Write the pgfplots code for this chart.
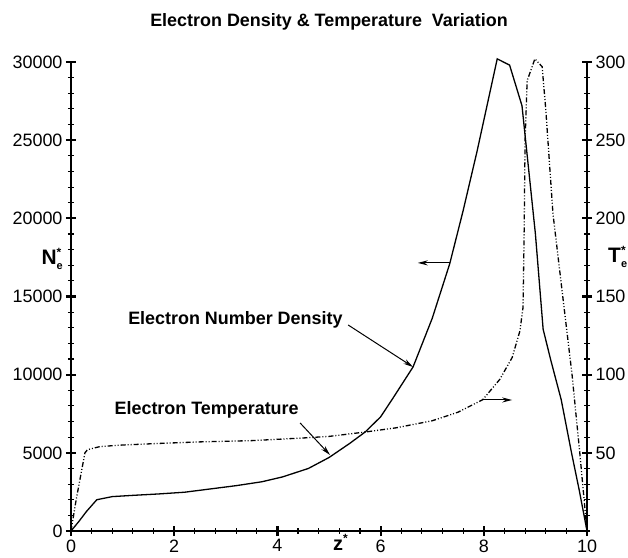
\documentclass[border=0pt]{standalone}
\usepackage{fontspec}
\setmainfont{Liberation Sans}
\usepackage{pgfplots}
\pgfplotsset{compat=1.18}
\usetikzlibrary{arrows.meta}

\newcommand{\lab}[2]{#1\makebox[0pt][l]{\raisebox{-0.45ex}{\fontsize{11}{11}\selectfont e}}\raisebox{0.75ex}{\fontsize{12}{12}\selectfont *}}

\begin{document}
\begin{tikzpicture}[x=1bp,y=1bp]
\pgfplotsset{
  common/.style={
    at={(0,0)}, anchor=south west,
    scale only axis, width=516bp, height=469bp,
    xmin=0, xmax=10,
    tick align=inside,
    axis line style={line width=2.2bp,-},
    major tick length=10bp, minor tick length=6bp,
    major tick style={black,line width=2.2bp},
    minor tick style={black,line width=1.1bp},
    tick label style={font=\fontsize{18}{20}\selectfont},
    /pgf/number format/assume math mode=true,
    /pgf/number format/1000 sep={},
    scaled y ticks=false,
    clip=false,
  }
}
% electron number density
\begin{axis}[common,
    axis x line=bottom, axis y line=left,
    x axis line style={-}, y axis line style={-},
    ymin=0, ymax=30000,
    xtick={0,2,...,10}, minor x tick num=4,
    ytick={0,5000,...,30000}, minor y tick num=4]
\addplot[black, line width=1.3bp] coordinates {
 (0,0) (0.15,600) (0.3,1250) (0.5,2000) (0.8,2200) (1.2,2280) (1.7,2370)
 (2.2,2480) (2.7,2690) (3.2,2900) (3.7,3150) (4.1,3460) (4.6,4000)
 (5.0,4700) (5.4,5600) (5.7,6330) (6.0,7300) (6.24,8500) (6.63,10500)
 (7.0,13600) (7.34,17100) (7.6,20500) (7.87,24300) (8.26,30200)
 (8.5,29800) (8.74,27200) (9.0,19000) (9.15,12900) (9.3,10900)
 (9.5,8400) (9.7,5000) (9.85,2600) (10,0)
};
\node[font=\bfseries\fontsize{18}{20}\selectfont] at (rel axis cs:0.5,1.085)
  {Electron Density \& Temperature~\ Variation};
\node[font=\bfseries\fontsize{21}{22}\selectfont] at (rel axis cs:-0.038,0.58) {\lab{N}{}};
\node[font=\bfseries\fontsize{20}{21}\selectfont, anchor=base, inner sep=0pt] at (rel axis cs:0.522,-0.042) {z\raisebox{0.75ex}{\fontsize{12}{12}\selectfont *}};
\node[anchor=east, font=\bfseries\fontsize{18}{20}\selectfont] at (5.33,13500) {Electron Number Density};
\node[anchor=east, font=\bfseries\fontsize{18}{20}\selectfont] at (4.48,7740) {Electron Temperature};
\draw[line width=1bp, -{Stealth[length=10bp,width=5bp]}] (5.37,13180) -- (6.63,10490);
\draw[line width=1bp, -{Stealth[length=10bp,width=5bp]}] (4.44,6910) -- (5.02,4860);
\draw[line width=1bp, -{Stealth[length=10bp,width=5bp]}] (7.34,17150) -- (6.72,17150);
\draw[line width=1bp, -{Stealth[length=10bp,width=5bp]}] (7.98,8380) -- (8.55,8380);
\end{axis}
% electron temperature
\begin{axis}[common,
    axis x line=none, axis y line=right,
    y axis line style={-},
    ymin=0, ymax=300,
    ytick={50,100,...,300}, minor ytick={0,10,...,300}]
\addplot[black, line width=1.3bp, dash pattern=on 5bp off 2bp on 1bp off 2bp on 1bp off 2bp] coordinates {
 (0,0) (0.1,20) (0.27,50) (0.32,52) (0.56,54) (1.0,55) (1.7,56) (2.5,57)
 (3.5,57.8) (4.5,59.5) (5.0,60.5) (5.7,63.3) (6.3,66) (7.0,70.5) (7.5,76)
 (7.98,84) (8.31,97) (8.55,111) (8.7,128) (8.76,143) (8.78,186) (8.8,250)
 (8.84,288) (8.99,302) (9.13,297) (9.2,270) (9.34,203) (9.53,150)
 (9.71,100) (9.86,50) (10,0)
};
\node[font=\bfseries\fontsize{21}{22}\selectfont] at (rel axis cs:1.058,0.585) {\lab{T}{}};
\end{axis}
\pgfresetboundingbox
\path[use as bounding box] (-71,-27) rectangle (557,531);
\end{tikzpicture}
\end{document}
